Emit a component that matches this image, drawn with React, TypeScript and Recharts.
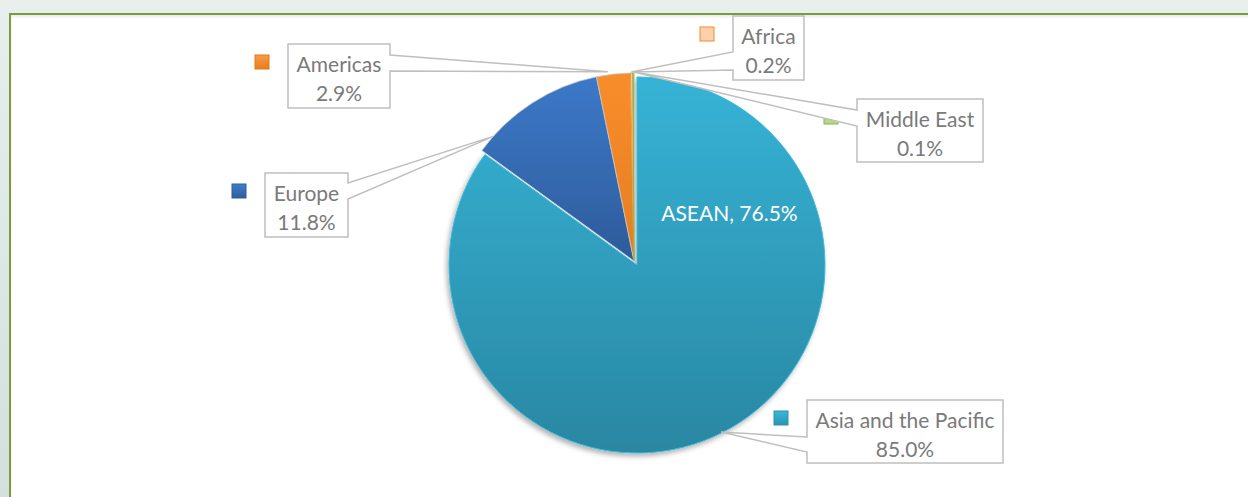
import { PieChart, Pie, Cell } from "recharts";

// regions and their share of the total
const categories = ["Asia and the Pacific", "Europe", "Americas", "Africa", "Middle East"];
const shares = [85.0, 11.8, 2.9, 0.2, 0.1];
const shareLabels = ["85.0%", "11.8%", "2.9%", "0.2%", "0.1%"];

// sub-group annotated inside the Asia slice
const subGroupName = "ASEAN";
const subGroupShare = "76.5%";

const data = categories.map((name, i) => ({ name, value: shares[i] }));

const fills = ["url(#gAsia)", "url(#gEurope)", "url(#gAmericas)", "#FAC9A1", "#9BC85B"];
const strokes = ["#3DB9DB", "#C9C9C9", "#C9C9C9", "#F58A2A", "#8AB64C"];
const keyFills = ["url(#kAsia)", "url(#kEurope)", "url(#kAmericas)", "#FBD0AE", "#B5D98A"];
const keyStrokes = ["#2C93B0", "#2F5E9E", "#E07A1F", "#F58A2A", "#8AB64C"];

// callout boxes (page px), wedge base on a box side and where the tip hits the slice
const callouts = [
  { x: 807, y: 400, w: 196, h: 63, side: "left", w1: 37, w2: 52, frac: 0.5, pad: 4 },
  { x: 265, y: 173, w: 83, h: 64, side: "right", w1: 10, w2: 26, frac: 0.13, pad: 0 },
  { x: 288, y: 44, w: 102, h: 64, side: "right", w1: 11, w2: 27, frac: 0.35, pad: 3 },
  { x: 733, y: 16, w: 71, h: 64, side: "left", w1: 36, w2: 54, frac: 0.3, pad: 1 },
  { x: 857, y: 99, w: 126, h: 63, side: "left", w1: 11, w2: 27, frac: 0.9, pad: 1 },
];

const RAD = Math.PI / 180;
const polar = (cx: number, cy: number, r: number, a: number) => ({
  x: cx + r * Math.cos(-a * RAD),
  y: cy + r * Math.sin(-a * RAD),
});

const FONT = "Lato, 'Noto Sans', sans-serif";
const FS = 21;

function renderLabel(props: any) {
  const { cx, cy, outerRadius, startAngle, endAngle, index } = props;
  const c = callouts[index];
  const a = startAngle + c.frac * (endAngle - startAngle);
  const tip = polar(cx, cy, outerRadius + c.pad, a);
  const { x, y, w, h } = c;
  let d = "";
  if (c.side === "right") {
    d = `M${x},${y} L${x + w},${y} L${x + w},${y + c.w1} L${tip.x},${tip.y} L${x + w},${y + c.w2} L${x + w},${y + h} L${x},${y + h} Z`;
  } else {
    d = `M${x},${y} L${x + w},${y} L${x + w},${y + h} L${x},${y + h} L${x},${y + c.w2} L${tip.x},${tip.y} L${x},${y + c.w1} Z`;
  }
  const asean = index === 0 ? polar(cx, cy, outerRadius * 0.57, 27) : null;
  return (
    <g key={`lab-${index}`}>
      <rect x={x - 33} y={y + 11} width={14} height={14} fill={keyFills[index]} stroke={keyStrokes[index]} strokeWidth={1} />
      <path d={d} fill="#fff" stroke="#BFBFBF" strokeWidth={1.5} />
      <text x={x + w / 2} y={y + 19} textAnchor="middle" dominantBaseline="central" fill="#7A7A7A" fontSize={FS} fontFamily={FONT}>
        {categories[index]}
      </text>
      <text x={x + w / 2} y={y + 48} textAnchor="middle" dominantBaseline="central" fill="#7A7A7A" fontSize={FS} fontFamily={FONT}>
        {shareLabels[index]}
      </text>
      {asean && (
        <text x={asean.x} y={asean.y} textAnchor="middle" dominantBaseline="central" fill="#fff" fontSize={FS} fontFamily={FONT}>
          {`${subGroupName}, ${subGroupShare}`}
        </text>
      )}
    </g>
  );
}

export default function App() {
  return (
    <div
      style={{
        position: "fixed",
        left: 0,
        top: 0,
        width: 1248,
        height: 497,
        overflow: "hidden",
        background: "linear-gradient(180deg, #E8EFEC 0%, #D3E0DB 100%)",
      }}
    >
      <div
        style={{
          position: "absolute",
          left: 9,
          top: 13,
          width: 1260,
          height: 500,
          background: "#fff",
          borderLeft: "2px solid #7B9B3F",
          borderTop: "2px solid #7B9B3F",
          boxShadow: "0 2px 3px rgba(0,0,0,0.08) inset",
        }}
      />
      <div style={{ position: "absolute", left: 0, top: 0 }}>
        <PieChart width={1248} height={497} margin={{ top: 0, right: 0, bottom: 0, left: 0 }}>
          <defs>
            <linearGradient id="gAsia" x1="0" y1="0" x2="0" y2="1">
              <stop offset="0%" stopColor="#36B3D6" />
              <stop offset="100%" stopColor="#2987A2" />
            </linearGradient>
            <linearGradient id="gEurope" x1="0" y1="0" x2="0" y2="1">
              <stop offset="0%" stopColor="#3C79C9" />
              <stop offset="100%" stopColor="#2E5B9A" />
            </linearGradient>
            <linearGradient id="gAmericas" x1="0" y1="0" x2="0" y2="1">
              <stop offset="0%" stopColor="#F88D2B" />
              <stop offset="100%" stopColor="#E57D20" />
            </linearGradient>
            <linearGradient id="kAsia" x1="0" y1="0" x2="0" y2="1">
              <stop offset="0%" stopColor="#3BB8DA" />
              <stop offset="100%" stopColor="#2C93B0" />
            </linearGradient>
            <linearGradient id="kEurope" x1="0" y1="0" x2="0" y2="1">
              <stop offset="0%" stopColor="#3E7CCC" />
              <stop offset="100%" stopColor="#2F5E9E" />
            </linearGradient>
            <linearGradient id="kAmericas" x1="0" y1="0" x2="0" y2="1">
              <stop offset="0%" stopColor="#F99B45" />
              <stop offset="100%" stopColor="#E57D20" />
            </linearGradient>
            <filter id="pieShadow" x="-10%" y="-10%" width="120%" height="120%">
              <feDropShadow dx={-2} dy={3} stdDeviation={2.5} floodColor="#000" floodOpacity={0.3} />
            </filter>
          </defs>
          {/* base pie: the large slice */}
          <Pie
            data={data}
            dataKey="value"
            nameKey="name"
            cx={637}
            cy={265}
            outerRadius={188}
            startAngle={90}
            endAngle={-270}
            isAnimationActive={false}
            labelLine={false}
            label={false}
          >
            {data.map((d, i) => (
              <Cell
                key={d.name}
                fill={i === 0 ? fills[0] : "none"}
                stroke={i === 0 ? strokes[0] : "none"}
                strokeWidth={1}
                filter={i === 0 ? "url(#pieShadow)" : undefined}
              />
            ))}
          </Pie>
          {/* slightly exploded small slices, with the callouts */}
          <Pie
            data={data}
            dataKey="value"
            nameKey="name"
            cx={634}
            cy={261}
            outerRadius={188}
            startAngle={90}
            endAngle={-270}
            isAnimationActive={false}
            labelLine={false}
            label={renderLabel}
          >
            {data.map((d, i) => (
              <Cell
                key={d.name}
                fill={i === 0 ? "none" : fills[i]}
                stroke={i === 0 ? "none" : strokes[i]}
                strokeWidth={0.75}
              />
            ))}
          </Pie>
        </PieChart>
      </div>
    </div>
  );
}
